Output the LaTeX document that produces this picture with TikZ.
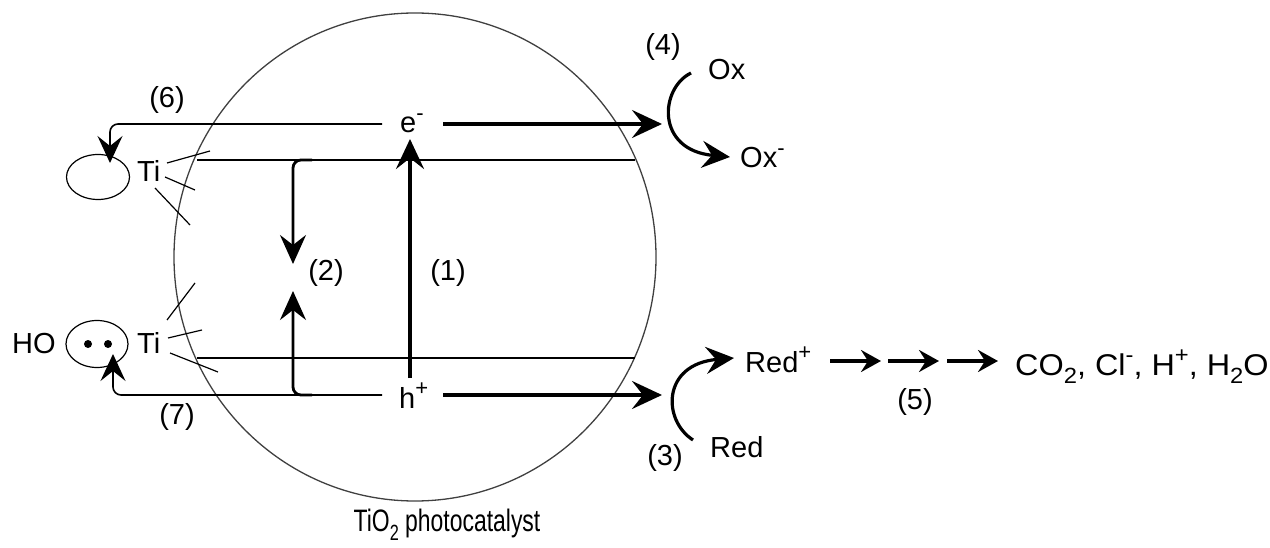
\documentclass[tikz,border=0pt]{standalone}
\usepackage{fontspec}
\setmainfont{Liberation Sans}
\usetikzlibrary{arrows.meta,shapes.geometric}
\newcommand\upsc[1]{\raisebox{0.42em}{\fontsize{22}{22}\selectfont #1}}
\newcommand\dnsc[1]{\raisebox{-0.28em}{\fontsize{22}{22}\selectfont #1}}
\begin{document}
\begin{tikzpicture}[x=1pt,y=-1pt,
  lbl/.style={font=\fontsize{29}{33}\selectfont, inner sep=0pt},
  bandln/.style={line width=1.7pt},
  bond/.style={line width=1.2pt},
  tipbig/.style={-{Stealth[length=30pt,width=28pt,inset=11pt]}},
  thickarr/.style={line width=3.6pt, tipbig},
  vertarr/.style={line width=4pt, tipbig},
  medarr/.style={line width=2.8pt, -{Stealth[length=29pt,width=26pt,inset=10pt]}},
  thinarr/.style={line width=1.6pt, rounded corners=8pt, -{Stealth[length=27pt,width=25pt,inset=10pt]}},
  curvarr/.style={line width=3.2pt, -{Stealth[length=28pt,width=27pt,inset=10pt]}},
  smallarr/.style={line width=3.2pt, -{Stealth[length=20pt,width=22pt,inset=7pt]}},
  orb/.style={draw, ellipse, line width=1.2pt, inner sep=0pt},
]
\useasboundingbox (0,0) rectangle (1270,548);

% particle
\draw[line width=1.3pt, black!75] (415,257) ellipse [x radius=241pt, y radius=244pt];

% texts
\node[lbl, anchor=base west] (e) at (400,133) {e\upsc{-}};
\node[lbl, anchor=base west] (h) at (399,408) {h\upsc{+}};
\node[lbl, anchor=base west] (ti1) at (137,182) {Ti};
\node[lbl, anchor=base west] (ti2) at (137,353) {Ti};
\node[lbl, anchor=base west] (ho) at (12,353) {HO};
\node[lbl] (l6) at (167,100) {(6)};
\node[lbl] (l7) at (177,417) {(7)};
\node[lbl] (l2) at (326,273) {(2)};
\node[lbl] (l1) at (448,273) {(1)};
\node[lbl] (l4) at (663,47) {(4)};
\node[lbl] (l3) at (665,458) {(3)};
\node[lbl] (l5) at (915,402) {(5)};
\node[lbl, anchor=base west] (ox) at (708,80) {Ox};
\node[lbl, anchor=base west] (oxm) at (740,168) {Ox\upsc{-}};
\node[lbl, anchor=base west] (red) at (710,457) {Red};
\node[lbl, anchor=base west] (redp) at (745,372) {Red\upsc{+}};
\node[lbl, anchor=base west] (prod) at (1015,375) {\scalebox{1.08}[1]{\fontsize{30}{33}\selectfont CO\dnsc{2}, Cl\upsc{-}, H\upsc{+}, H\dnsc{2}O}};
\node[lbl] (cat) at (447,525) {\scalebox{0.74}[1]{\fontsize{31}{33}\selectfont TiO\dnsc{2} photocatalyst}};

% surface orbitals
\node[orb, minimum width=63pt, minimum height=45pt] (ov1) at (98,177) {};
\node[orb, minimum width=62pt, minimum height=47pt] (ov2) at (97,344) {};
\fill (88,344) circle (4pt);
\fill (108,344) circle (4pt);

% bonds
\draw[bond] (167,163) -- (210,151);
\draw[bond] (165,177) -- (195,190);
\draw[bond] (155,188) -- (190,225);
\draw[bond] (167,320) -- (195,283);
\draw[bond] (168,338) -- (202,330);
\draw[bond] (170,353) -- (218,372);

% coordinates
\coordinate (eL) at (382,124); \coordinate (eR) at (443,124); \coordinate (eT) at (662,124);
\coordinate (c6) at (110,124); \coordinate (t6) at (110,163);
\coordinate (hL) at (382,395); \coordinate (hR) at (443,395); \coordinate (hT) at (662,395);
\coordinate (c7) at (113,395); \coordinate (t7) at (113,354);
\coordinate (cbL) at (197,160); \coordinate (cbR) at (635,160);
\coordinate (vbL) at (197,358); \coordinate (vbR) at (635,358);
\coordinate (d2a) at (312,160); \coordinate (d2c) at (293,160); \coordinate (d2t) at (293,264);
\coordinate (u2a) at (312,395); \coordinate (u2c) at (293,395); \coordinate (u2t) at (293,291);
\coordinate (a1s) at (410,378); \coordinate (a1t) at (410,139);

% bands
\draw[bandln] (cbL) -- (cbR);
\draw[bandln] (vbL) -- (vbR);

% e- and h+ paths
\draw[thinarr] (eL) -- (c6) -- (t6);
\draw[thinarr] (hL) -- (c7) -- (t7);
\draw[thickarr] (eR) -- (eT);
\draw[thickarr] (hR) -- (hT);

% (1) excitation
\draw[vertarr] (a1s) -- (a1t);

% (2) recombination
\draw[medarr, rounded corners=8pt] (d2a) -- (d2c) -- (d2t);
\draw[medarr, rounded corners=8pt] (u2a) -- (u2c) -- (u2t);

% (4) arc
\coordinate (o4s) at (691,73); \coordinate (o4t) at (730,157);
\draw[curvarr] (o4s) .. controls (660,88) and (655,150) .. (o4t);

% (3) arc
\coordinate (o3s) at (693,440); \coordinate (o3t) at (734,358);
\draw[curvarr] (o3s) .. controls (662,420) and (662,364) .. (o3t);

% (5) steps
\coordinate (s1) at (830,361); \coordinate (s2) at (881,361);
\coordinate (s3) at (888,361); \coordinate (s4) at (939,361);
\coordinate (s5) at (947,361); \coordinate (s6) at (998,361);
\draw[smallarr] (s1) -- (s2);
\draw[smallarr] (s3) -- (s4);
\draw[smallarr] (s5) -- (s6);
\end{tikzpicture}
\end{document}
